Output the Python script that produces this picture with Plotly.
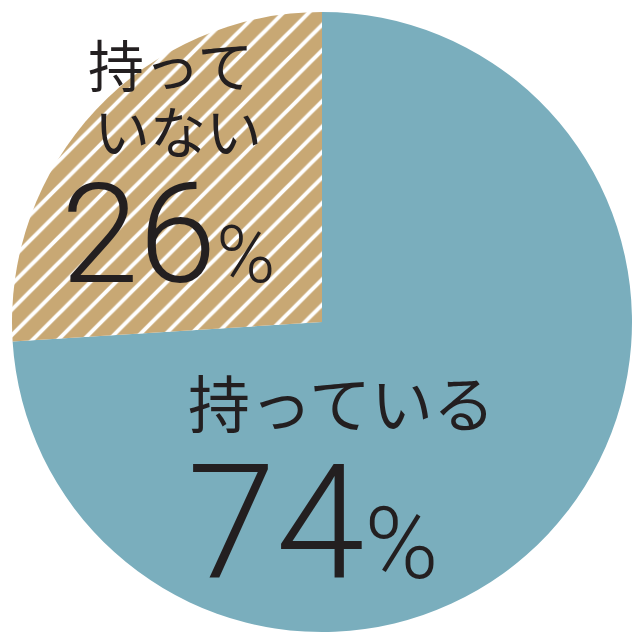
import plotly.graph_objects as go

# 所有率（持っている / 持っていない）
labels = ["持っている", "持っていない"]
values = [74, 26]
label_lines = [["持っている"], ["持って", "いない"]]

BLUE = "#7aaebd"
TAN = "#c8a874"
INK = "#231f20"
W = H = 640
OFF = 8  # page body offset in the screenshot
ML, MT, MR, MB = 12 - OFF, 12 - OFF, 8 + OFF, 8 + OFF


def px(x, y):
    # screenshot pixel position -> paper coordinates
    fx, fy = x - OFF, y - OFF
    return (fx - ML) / (W - ML - MR), 1 - (fy - MT) / (H - MT - MB)


fig = go.Figure(go.Pie(
    labels=labels,
    values=values,
    sort=False,
    direction="clockwise",
    rotation=0,
    textinfo="none",
    hoverinfo="label+percent",
    marker=dict(
        colors=[BLUE, TAN],
        line=dict(width=0),
        pattern=dict(shape=["", "/"], fgcolor="white", fgopacity=1,
                     bgcolor=[BLUE, TAN], size=18, solidity=0.22,
                     fillmode="overlay"),
    ),
))

jp = "Noto Sans CJK JP"
num = "Roboto"


def note(x, y, text, size, family, **kw):
    ax, ay = px(x, y)
    fig.add_annotation(x=ax, y=ay, xref="paper", yref="paper", showarrow=False,
                       text=text, xanchor="center", yanchor="middle",
                       font=dict(family=family, size=size, color=INK, **kw))


# 持っていない 26%
note(170, 62, label_lines[1][0], 56, jp)
note(178, 128, label_lines[1][1], 56, jp)
note(168, 234, f"{values[1]}<span style='font-size:80px'>%</span>", 140, num, weight=300)

# 持っている 74%
note(341, 401, label_lines[0][0], 62, jp)
note(312, 523, f"{values[0]}<span style='font-size:100px'>%</span>", 160, num, weight=300)

fig.update_layout(width=W, height=H, showlegend=False,
                  margin=dict(l=ML, r=MR, t=MT, b=MB),
                  paper_bgcolor="white", plot_bgcolor="white")

fig.write_html("out.html")
